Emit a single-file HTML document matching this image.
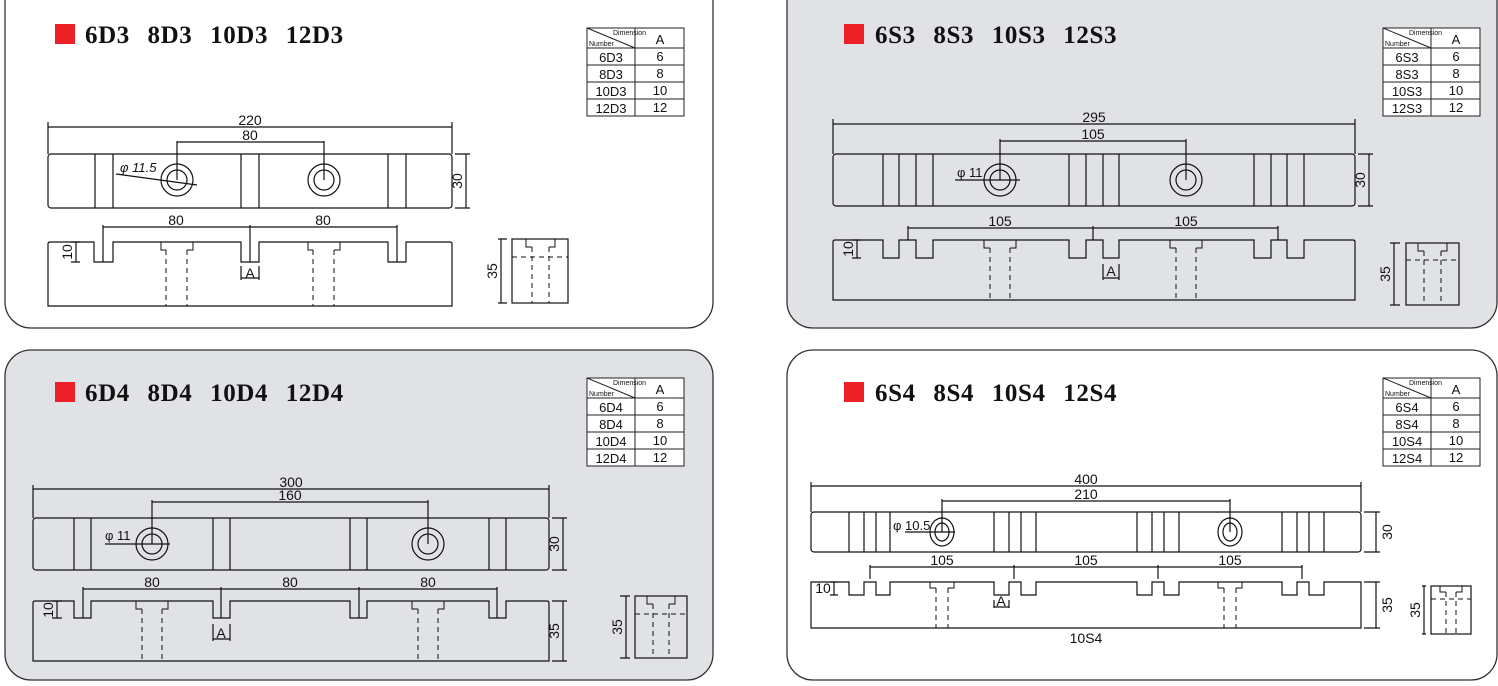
<!DOCTYPE html>
<html><head><meta charset="utf-8"><style>
html,body{margin:0;padding:0;background:#fff;}
svg{display:block;}
text{font-family:"Liberation Sans",sans-serif;fill:#111;}
.t{font-family:"Liberation Serif",serif;font-weight:bold;font-size:25px;word-spacing:2px;letter-spacing:0.6px;}
.d{font-size:14px;text-anchor:middle;}
.s{font-size:13px;text-anchor:middle;}
.xs{font-size:7px;}
</style></head><body>
<svg width="1498" height="686" viewBox="0 0 1498 686" xmlns="http://www.w3.org/2000/svg">
<g stroke="#333" stroke-width="1.3">
<rect x="5" y="-30" width="708" height="358" rx="26" fill="#fff"/>
<rect x="787" y="-30" width="710" height="358" rx="26" fill="#e0e2e5"/>
<rect x="5" y="350" width="708" height="330" rx="26" fill="#e0e2e5"/>
<rect x="787" y="350" width="710" height="330" rx="26" fill="#fff"/>
</g>
<rect x="55" y="24" width="20" height="20" fill="#ee2027"/>
<text class="t" x="85" y="43">6D3&#160; 8D3&#160; 10D3&#160; 12D3</text>
<rect x="844" y="24" width="20" height="20" fill="#ee2027"/>
<text class="t" x="875" y="43">6S3&#160; 8S3&#160; 10S3&#160; 12S3</text>
<rect x="55" y="382" width="20" height="20" fill="#ee2027"/>
<text class="t" x="85" y="401">6D4&#160; 8D4&#160; 10D4&#160; 12D4</text>
<rect x="844" y="382" width="20" height="20" fill="#ee2027"/>
<text class="t" x="875" y="401">6S4&#160; 8S4&#160; 10S4&#160; 12S4</text>

<g stroke="#222" stroke-width="1" fill="#fff">
<rect x="587" y="28" width="97" height="88"/>
<line x1="635" y1="28" x2="635" y2="116"/>
<line x1="587" y1="48" x2="684" y2="48"/><line x1="587" y1="65" x2="684" y2="65"/>
<line x1="587" y1="82" x2="684" y2="82"/><line x1="587" y1="99" x2="684" y2="99"/>
<line x1="587" y1="28" x2="635" y2="48"/>
<rect x="1383" y="28" width="97" height="88"/>
<line x1="1431" y1="28" x2="1431" y2="116"/>
<line x1="1383" y1="48" x2="1480" y2="48"/><line x1="1383" y1="65" x2="1480" y2="65"/>
<line x1="1383" y1="82" x2="1480" y2="82"/><line x1="1383" y1="99" x2="1480" y2="99"/>
<line x1="1383" y1="28" x2="1431" y2="48"/>
<rect x="587" y="378" width="97" height="88"/>
<line x1="635" y1="378" x2="635" y2="466"/>
<line x1="587" y1="398" x2="684" y2="398"/><line x1="587" y1="415" x2="684" y2="415"/>
<line x1="587" y1="432" x2="684" y2="432"/><line x1="587" y1="449" x2="684" y2="449"/>
<line x1="587" y1="378" x2="635" y2="398"/>
<rect x="1383" y="378" width="97" height="88"/>
<line x1="1431" y1="378" x2="1431" y2="466"/>
<line x1="1383" y1="398" x2="1480" y2="398"/><line x1="1383" y1="415" x2="1480" y2="415"/>
<line x1="1383" y1="432" x2="1480" y2="432"/><line x1="1383" y1="449" x2="1480" y2="449"/>
<line x1="1383" y1="378" x2="1431" y2="398"/>
</g>
<g class="xs">
<text x="613" y="35">Dimension</text><text x="589" y="46">Number</text>
<text x="1409" y="35">Dimension</text><text x="1385" y="46">Number</text>
<text x="613" y="385">Dimension</text><text x="589" y="396">Number</text>
<text x="1409" y="385">Dimension</text><text x="1385" y="396">Number</text>
</g>
<g class="s">
<text x="660" y="44">A</text><text x="611" y="62">6D3</text><text x="660" y="61">6</text>
<text x="611" y="79">8D3</text><text x="660" y="78">8</text>
<text x="611" y="96">10D3</text><text x="660" y="95">10</text>
<text x="611" y="113">12D3</text><text x="660" y="112">12</text>
<text x="1456" y="44">A</text><text x="1407" y="62">6S3</text><text x="1456" y="61">6</text>
<text x="1407" y="79">8S3</text><text x="1456" y="78">8</text>
<text x="1407" y="96">10S3</text><text x="1456" y="95">10</text>
<text x="1407" y="113">12S3</text><text x="1456" y="112">12</text>
<text x="660" y="394">A</text><text x="611" y="412">6D4</text><text x="660" y="411">6</text>
<text x="611" y="429">8D4</text><text x="660" y="428">8</text>
<text x="611" y="446">10D4</text><text x="660" y="445">10</text>
<text x="611" y="463">12D4</text><text x="660" y="462">12</text>
<text x="1456" y="394">A</text><text x="1407" y="412">6S4</text><text x="1456" y="411">6</text>
<text x="1407" y="429">8S4</text><text x="1456" y="428">8</text>
<text x="1407" y="446">10S4</text><text x="1456" y="445">10</text>
<text x="1407" y="463">12S4</text><text x="1456" y="462">12</text>
</g>

<g stroke="#111" stroke-width="1.2" fill="none">
<rect x="48" y="154" width="404" height="54" rx="3"/>
<path d="M95 154V208M113 154V208M241 154V208M259 154V208M388 154V208M406 154V208"/>
<circle cx="177" cy="180" r="16"/><circle cx="177" cy="180" r="10"/>
<circle cx="324" cy="180" r="16"/><circle cx="324" cy="180" r="10"/>
<path d="M48 122V154M452 122V154M48 127H452M177 141V180M324 141V180M177 142H324M116 174L197 185"/>
<path d="M455 154H470M455 208H470M466 154V208"/>
<path d="M48 244Q48 242 50 242H94V262H113V242H241V262H259V242H388V262H406V242H450Q452 242 452 244V306H48Z"/>
<path d="M103 227H397M103 225V262M250 225V262M397 225V262M76 242V262M71 242H80M71 262H80"/>
<path d="M241 266V280M259 266V280M241 278H259"/>
<rect x="512" y="239" width="56" height="64"/>
<path d="M498 239H507M498 303H507M501 239V303"/>
<path d="M161 242V250H166M193 242V250H187M308 242V250H313M340 242V250H334M526 239V247H532M555 239V247H549" stroke-width="1"/>
<path d="M166 250V306M187 250V306M313 250V306M334 250V306M512 257H568M532 247V303M549 247V303" stroke-dasharray="5,4" stroke-width="1"/>

<rect x="833" y="154" width="522" height="52" rx="3"/>
<path d="M883 154V206M899 154V206M916 154V206M933 154V206M1069 154V206M1086 154V206M1103 154V206M1119 154V206M1254 154V206M1271 154V206M1287 154V206M1304 154V206"/>
<circle cx="1000" cy="180" r="16"/><circle cx="1000" cy="180" r="10"/>
<circle cx="1186" cy="180" r="16"/><circle cx="1186" cy="180" r="10"/>
<path d="M833 119V154M1355 119V154M833 124H1355M1000 139V180M1186 139V180M1000 141H1186M955 180H1020"/>
<path d="M1358 154H1373M1358 206H1373M1369 154V206"/>
<path d="M833 242Q833 240 835 240H883V258H899V240H916V258H933V240H1069V258H1086V240H1103V258H1119V240H1254V258H1271V240H1287V258H1304V240H1353Q1355 240 1355 242V300H833Z"/>
<path d="M908 228H1278M908 226V240M1093 226V240M1278 226V240M857 240V258M852 240H861M852 258H861"/>
<path d="M1103 264V280M1119 264V280M1103 278H1119"/>
<rect x="1406" y="243" width="53" height="62"/>
<path d="M1390 243H1400M1390 305H1400M1394 243V305"/>
<path d="M984 240V248H990M1016 240V248H1010M1170 240V248H1176M1202 240V248H1196M1418 243V251H1424M1447 243V251H1441" stroke-width="1"/>
<path d="M990 248V300M1010 248V300M1176 248V300M1196 248V300M1406 260H1459M1424 251V305M1441 251V305" stroke-dasharray="5,4" stroke-width="1"/>

<rect x="33" y="518" width="516" height="52" rx="3"/>
<path d="M74 518V570M91 518V570M213 518V570M230 518V570M350 518V570M367 518V570M489 518V570M506 518V570"/>
<circle cx="152" cy="544" r="16"/><circle cx="152" cy="544" r="10"/>
<circle cx="428" cy="544" r="16"/><circle cx="428" cy="544" r="10"/>
<path d="M33 485V518M549 485V518M33 489H549M152 500V544M428 500V544M152 502H428M105 544H170"/>
<path d="M552 518H567M552 570H567M563 518V570"/>
<path d="M33 603Q33 601 35 601H74V618H91V601H213V618H230V601H350V618H367V601H489V618H506V601H547Q549 601 549 603V661H33Z"/>
<path d="M83 589H497M83 587V618M221 587V618M359 587V618M497 587V618M57 601V618M52 601H62M52 618H62"/>
<path d="M552 601H567M552 661H567M563 601V661"/>
<path d="M213 624V641M230 624V641M213 639H230"/>
<rect x="635" y="596" width="52" height="62"/>
<path d="M620 596H630M620 658H630M626 596V658"/>
<path d="M136 601V609H142M168 601V609H162M412 601V609H418M444 601V609H438M647 596V604H653M675 596V604H669" stroke-width="1"/>
<path d="M142 609V661M162 609V661M418 609V661M438 609V661M635 614H687M653 604V658M669 604V658" stroke-dasharray="5,4" stroke-width="1"/>

<rect x="811" y="512" width="550" height="40" rx="3"/>
<path d="M849 512V552M864 512V552M876 512V552M890 512V552M994 512V552M1009 512V552M1021 512V552M1036 512V552M1137 512V552M1152 512V552M1164 512V552M1179 512V552M1282 512V552M1297 512V552M1309 512V552M1324 512V552"/>
<ellipse cx="942" cy="532" rx="12" ry="14"/><ellipse cx="942" cy="532" rx="7" ry="9"/>
<ellipse cx="1230" cy="532" rx="12" ry="14"/><ellipse cx="1230" cy="532" rx="7" ry="9"/>
<path d="M811 482V512M1361 482V512M811 486H1361M942 499V532M1230 499V532M942 501H1230M905 532H955"/>
<path d="M1364 512H1380M1364 552H1380M1376 512V552"/>
<path d="M811 582H849V595H864V582H876V595H890V582H994V595H1009V582H1021V595H1036V582H1137V595H1152V582H1164V595H1179V582H1282V595H1297V582H1309V595H1324V582H1361V628H811Z"/>
<path d="M870 567H1302M870 565V579M1014 565V579M1158 565V579M1302 565V579M834 582V595M830 582H838M830 595H838"/>
<path d="M1364 582H1380M1364 628H1380M1376 582V628"/>
<path d="M994 600V608M1009 600V608M994 607H1009"/>
<rect x="1431" y="586" width="40" height="48"/>
<path d="M1422 586H1426M1422 634H1426M1424 586V634"/>
<path d="M930 582V588H936M954 582V588H948M1218 582V588H1224M1242 582V588H1236M1440 586V592H1446M1462 586V592H1456" stroke-width="1"/>
<path d="M936 588V628M948 588V628M1224 588V628M1236 588V628M1431 599H1471M1446 592V634M1456 592V634" stroke-dasharray="5,4" stroke-width="1"/>
</g>

<g class="d">
<text x="250" y="125">220</text><text x="250" y="140">80</text>
<text x="176" y="225">80</text><text x="323" y="225">80</text>
<text x="250" y="278">A</text>
<text x="1094" y="122">295</text><text x="1093" y="139">105</text>
<text x="1000" y="226">105</text><text x="1186" y="226">105</text>
<text x="1111" y="276">A</text>
<text x="291" y="487">300</text><text x="290" y="500">160</text>
<text x="152" y="587">80</text><text x="290" y="587">80</text><text x="428" y="587">80</text>
<text x="221" y="638">A</text>
<text x="1086" y="484">400</text><text x="1086" y="499">210</text>
<text x="942" y="565">105</text><text x="1086" y="565">105</text><text x="1230" y="565">105</text>
<text x="1001" y="606">A</text>
<text x="1086" y="643">10S4</text>
<text x="823" y="593">10</text>
</g>
<g font-size="13">
<text x="120" y="172" font-style="italic">&#966; 11.5</text>
<text x="957" y="177">&#966; 11</text>
<text x="105" y="540">&#966; 11</text>
<text x="893" y="530">&#966; 10.5</text>
</g>
<g class="d">
<text transform="translate(466,181) rotate(-90)" y="-4">30</text>
<text transform="translate(76,252) rotate(-90)" y="-4">10</text>
<text transform="translate(501,271) rotate(-90)" y="-4">35</text>
<text transform="translate(1369,180) rotate(-90)" y="-4">30</text>
<text transform="translate(857,249) rotate(-90)" y="-4">10</text>
<text transform="translate(1394,274) rotate(-90)" y="-4">35</text>
<text transform="translate(563,544) rotate(-90)" y="-4">30</text>
<text transform="translate(57,610) rotate(-90)" y="-4">10</text>
<text transform="translate(563,631) rotate(-90)" y="-4">35</text>
<text transform="translate(626,627) rotate(-90)" y="-4">35</text>
<text transform="translate(1376,532) rotate(-90)" y="16">30</text>
<text transform="translate(1376,605) rotate(-90)" y="16">35</text>
<text transform="translate(1424,610) rotate(-90)" y="-4">35</text>
</g>
</svg>
</body></html>
